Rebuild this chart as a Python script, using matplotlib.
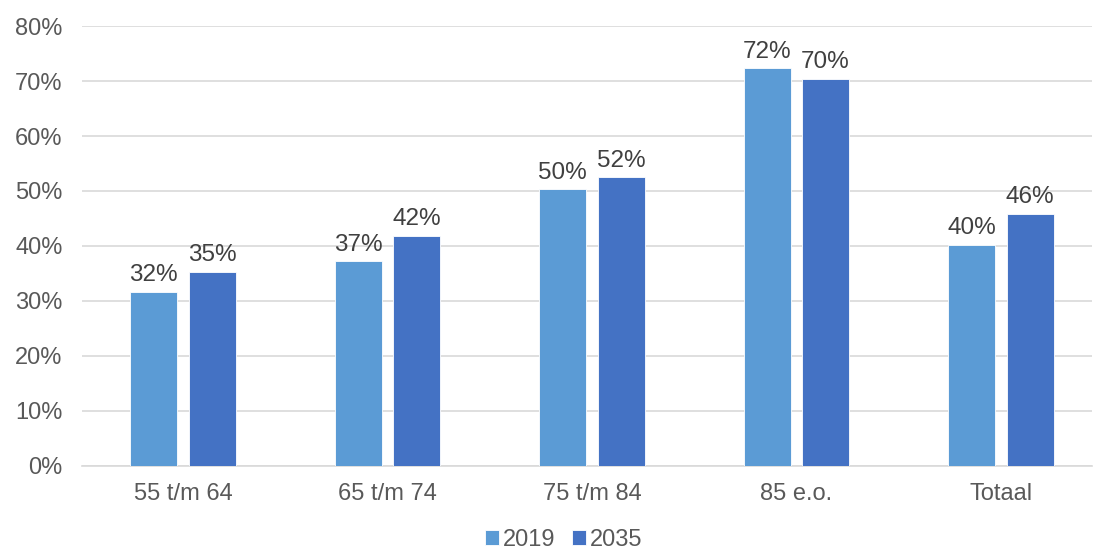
import numpy as np
import matplotlib.pyplot as plt

plt.rcParams['font.family'] = ['Liberation Sans', 'DejaVu Sans']

categories = ['55 t/m 64', '65 t/m 74', '75 t/m 84', '85 e.o.', 'Totaal']
years = ['2019', '2035']
vals_2019 = [31.7, 37.2, 50.3, 72.3, 40.2]
vals_2035 = [35.3, 41.9, 52.5, 70.4, 45.9]
colors = ['#5B9BD5', '#4472C4']

fig = plt.figure(figsize=(10.94, 5.54), dpi=100)
ax = fig.add_axes([0.075, 0.159, 0.923, 0.794])

x = np.arange(len(categories))
w = 0.23
off = 0.143
for vals, dx, c, lab in [(vals_2019, -off, colors[0], years[0]),
                         (vals_2035, off, colors[1], years[1])]:
    bars = ax.bar(x + dx, vals, width=w, color=c, edgecolor='white',
                  linewidth=0.6, label=lab, zorder=3)
    for b, v in zip(bars, vals):
        ax.text(b.get_x() + b.get_width() / 2, v + 1.0, '%d%%' % round(v),
                ha='center', va='bottom', fontsize=17.5, color='#404040')

ax.set_ylim(0, 80)
ax.set_xlim(-0.494, 4.445)
ax.set_yticks(range(0, 81, 10))
ax.set_yticklabels(['%d%%' % t for t in range(0, 81, 10)])
ax.set_xticks(x)
ax.set_xticklabels(categories)
ax.tick_params(axis='both', length=0, labelsize=17, labelcolor='#595959')
ax.tick_params(axis='y', pad=14)
ax.tick_params(axis='x', pad=12)
ax.yaxis.grid(True, color='#D9D9D9', linewidth=1.2, zorder=0)
for s in ['top', 'right', 'left']:
    ax.spines[s].set_visible(False)
ax.spines['bottom'].set_color('#D9D9D9')
ax.spines['bottom'].set_linewidth(1.2)

leg = fig.legend(loc='lower center', bbox_to_anchor=(0.515, -0.033), ncol=2,
                 frameon=False, fontsize=17, handlelength=0.6, handleheight=0.6,
                 handletextpad=0.15, columnspacing=0.7)
for t in leg.get_texts():
    t.set_color('#595959')

fig.savefig('out.png', dpi=100)
